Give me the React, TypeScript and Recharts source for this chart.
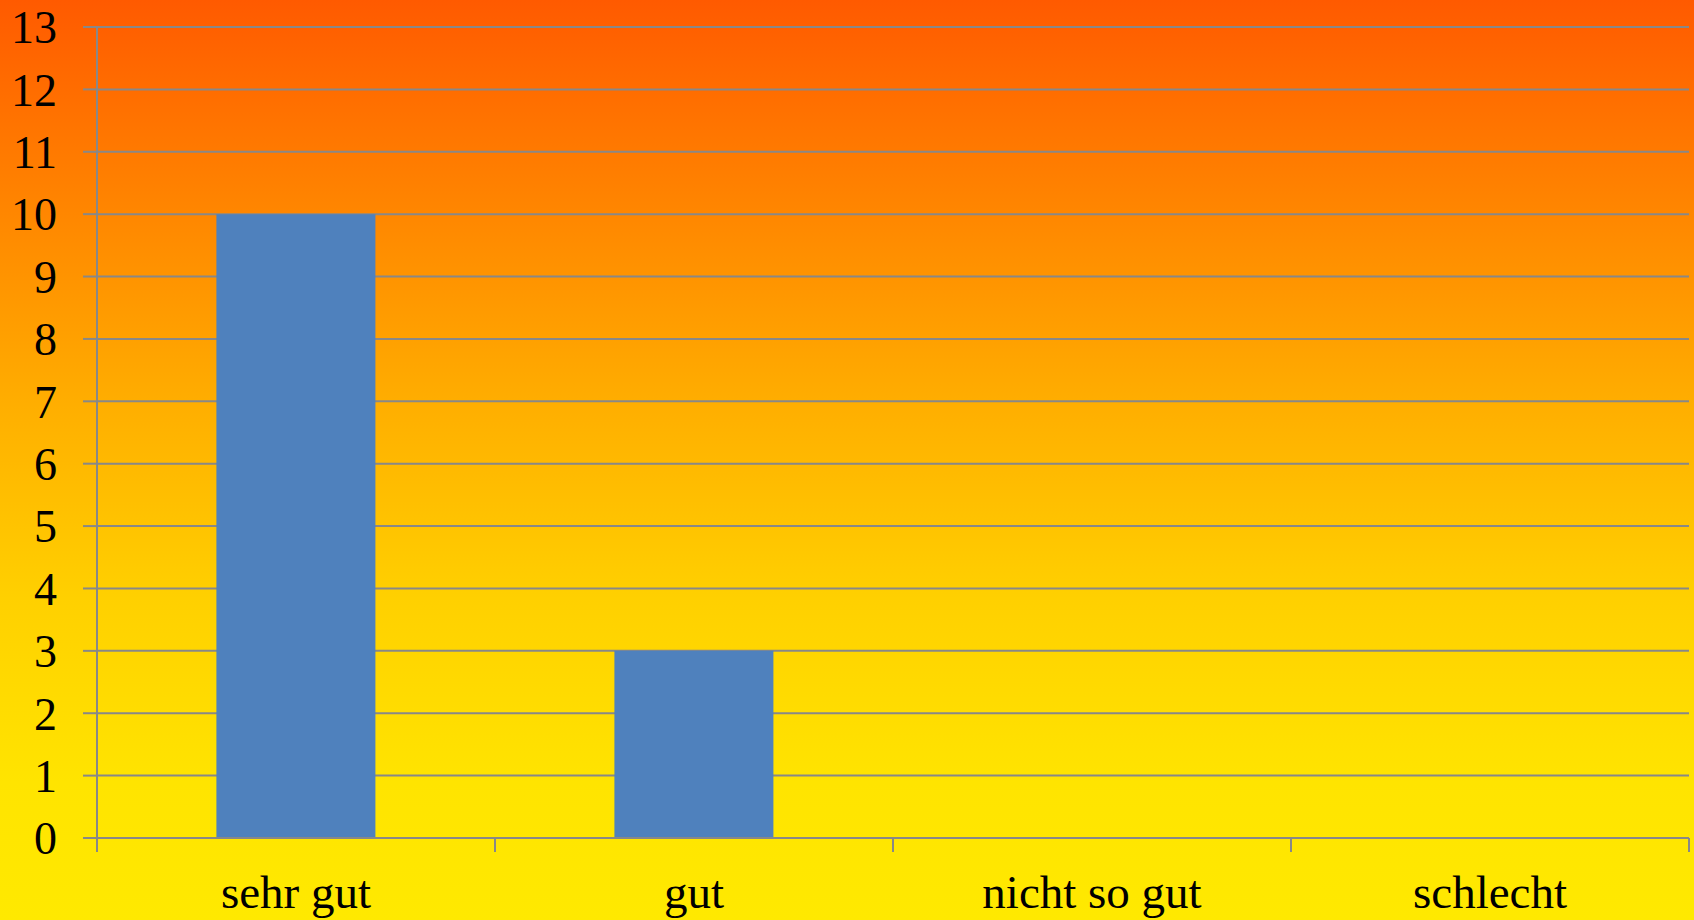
import React from 'react';
import { BarChart, Bar, XAxis, YAxis, CartesianGrid } from 'recharts';

const CATEGORIES = ['sehr gut', 'gut', 'nicht so gut', 'schlecht'];
const VALUES = [10, 3, 0, 0];
const Y_TICKS = [0, 1, 2, 3, 4, 5, 6, 7, 8, 9, 10, 11, 12, 13];
const EDGE_TICKS = [0, 1, 2, 3, 4];

// pos = centre of each category on the 0..4 edge axis
const data = CATEGORIES.map((name, i) => ({ name, value: VALUES[i], pos: i + 0.5 }));

const FONT = '"Liberation Serif", "Times New Roman", serif';
const GRID = '#888888';

const App: React.FC = () => {
    return (
        <div
            style={{
                position: 'absolute',
                left: 0,
                top: 0,
                width: 1694,
                height: 920,
                background: 'linear-gradient(to bottom, #FF5A00 0%, #FF8A00 25%, #FFB000 45%, #FFD000 65%, #FFE400 85%, #FFE900 100%)',
            }}
        >
            <BarChart
                width={1694}
                height={920}
                data={data}
                margin={{ top: 27, right: 5, left: 0, bottom: 0 }}
                barCategoryGap="30%"
            >
                <CartesianGrid horizontal vertical={false} stroke={GRID} strokeWidth={2} />
                {/* edge ticks between categories */}
                <XAxis
                    xAxisId={0}
                    type="number"
                    dataKey="pos"
                    domain={[0, 4]}
                    ticks={EDGE_TICKS}
                    interval={0}
                    height={14}
                    tickSize={14}
                    stroke={GRID}
                    strokeWidth={2}
                    tick={() => <g />}
                />
                <XAxis
                    xAxisId={1}
                    dataKey="name"
                    height={68}
                    axisLine={false}
                    tickLine={false}
                    tickMargin={17}
                    interval={0}
                    tick={{ fill: '#000', fontSize: 47, fontFamily: FONT }}
                />
                <YAxis
                    domain={[0, 13]}
                    ticks={Y_TICKS}
                    interval={0}
                    width={97}
                    tickSize={14}
                    tickMargin={26}
                    stroke={GRID}
                    strokeWidth={2}
                    tick={{ fill: '#000', fontSize: 46, fontFamily: FONT }}
                />
                <Bar xAxisId={1} dataKey="value" fill="#4F81BD" isAnimationActive={false} />
            </BarChart>
        </div>
    );
};

export default App;
